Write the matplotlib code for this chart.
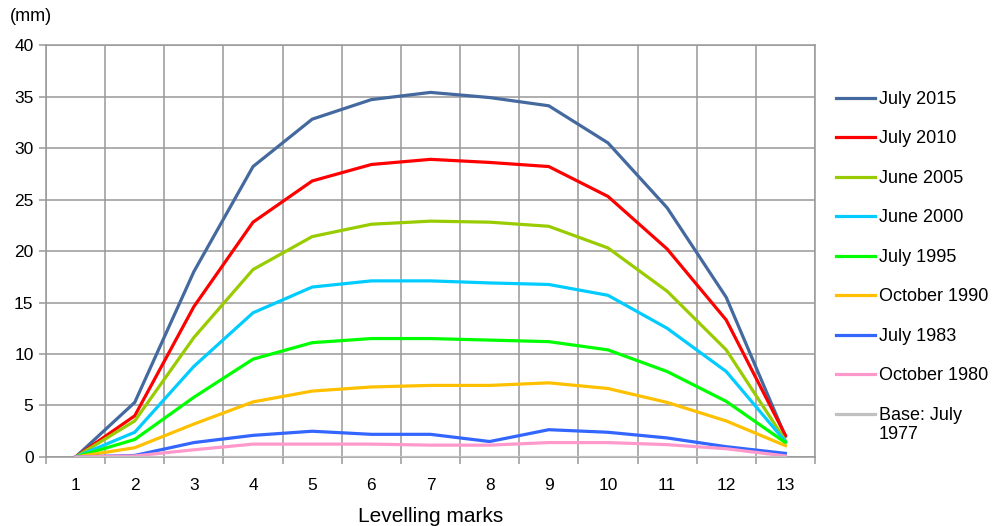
import matplotlib
matplotlib.use("Agg")
import matplotlib.pyplot as plt
from matplotlib.legend_handler import HandlerLine2D
import numpy as np

plt.rcParams['font.family'] = ['Liberation Sans', 'DejaVu Sans']

marks = list(range(1, 14))
labels = ["July 2015", "July 2010", "June 2005", "June 2000", "July 1995",
          "October 1990", "July 1983", "October 1980", "Base: July\n1977"]
colors = ["#44699E", "#FF0000", "#99CC00", "#00CCFF", "#00FF00",
          "#FFC000", "#3366FF", "#FF99CC", "#C0C0C0"]

july_2015 = [0, 5.3, 18.0, 28.2, 32.8, 34.7, 35.4, 34.9, 34.1, 30.5, 24.2, 15.5, 2.0]
july_2010 = [0, 4.0, 14.6, 22.8, 26.8, 28.4, 28.9, 28.6, 28.2, 25.3, 20.2, 13.3, 2.1]
june_2005 = [0, 3.5, 11.6, 18.2, 21.4, 22.6, 22.9, 22.8, 22.4, 20.3, 16.1, 10.4, 1.6]
june_2000 = [0, 2.4, 8.8, 14.0, 16.5, 17.1, 17.1, 16.9, 16.75, 15.7, 12.5, 8.3, 1.5]
july_1995 = [0, 1.7, 5.8, 9.5, 11.1, 11.5, 11.5, 11.35, 11.2, 10.4, 8.3, 5.4, 1.4]
oct_1990 = [0, 0.9, 3.2, 5.35, 6.4, 6.8, 6.95, 6.95, 7.2, 6.65, 5.3, 3.5, 1.1]
july_1983 = [0, 0.15, 1.4, 2.1, 2.5, 2.2, 2.2, 1.5, 2.65, 2.4, 1.85, 1.0, 0.35]
oct_1980 = [0, 0.1, 0.7, 1.25, 1.25, 1.25, 1.15, 1.15, 1.4, 1.4, 1.2, 0.8, 0.1]
base_1977 = [0] * 13

series = [july_2015, july_2010, june_2005, june_2000, july_1995,
          oct_1990, july_1983, oct_1980, base_1977]


class RaisedHandler(HandlerLine2D):
    """Legend handle shifted up so it sits level with the first text line."""
    def __init__(self, shift, **kw):
        super().__init__(**kw)
        self.shift = shift

    def create_artists(self, legend, orig_handle, xdescent, ydescent, width,
                       height, fontsize, trans):
        arts = super().create_artists(legend, orig_handle, xdescent, ydescent,
                                      width, height, fontsize, trans)
        for a in arts:
            a.set_ydata(np.asarray(a.get_ydata(), dtype=float) + self.shift)
        return arts


fig = plt.figure(figsize=(9.98, 5.26), dpi=100)
ax = fig.add_axes([0.0461, 0.1312, 0.7705, 0.7832])

grid_c = "#999999"
lines = []
for vals, lab, col in zip(series, labels, colors):
    ln, = ax.plot(marks, vals, color=col, lw=2.3, label=lab, solid_joinstyle='miter', zorder=3)
    lines.append(ln)

ax.set_xlim(0.5, 13.5)
ax.set_ylim(0, 40)
ax.set_yticks(np.arange(0, 41, 5))
ax.set_xticks(marks)
ax.set_xticks(np.arange(0.5, 13.6, 1), minor=True)
ax.tick_params(axis='x', which='major', length=0, labelsize=12.5, pad=15)
ax.tick_params(axis='x', which='minor', length=5, width=1.1, color=grid_c, direction='out')
ax.tick_params(axis='y', which='major', length=5, width=1.1, color=grid_c, labelsize=12.5, pad=4)
ax.grid(True, which='minor', axis='x', color=grid_c, lw=1.1, zorder=0)
ax.grid(True, which='major', axis='y', color=grid_c, lw=1.1, zorder=0)
for s in ax.spines.values():
    s.set_color(grid_c)
    s.set_linewidth(1.1)
ax.set_axisbelow(True)

ax.set_xlabel("Levelling marks", fontsize=15, labelpad=10)
fig.text(0.010, 0.968, "(mm)", fontsize=13, ha='left', va='center')

leg = ax.legend(loc='upper left', bbox_to_anchor=(0.8377, 0.827), bbox_transform=fig.transFigure,
                frameon=False, fontsize=13, handlelength=2.17, handletextpad=0.2,
                labelspacing=1.245, borderaxespad=0, borderpad=0,
                handler_map={lines[-1]: RaisedHandler(8.5)})

fig.savefig("out.png", dpi=100)
